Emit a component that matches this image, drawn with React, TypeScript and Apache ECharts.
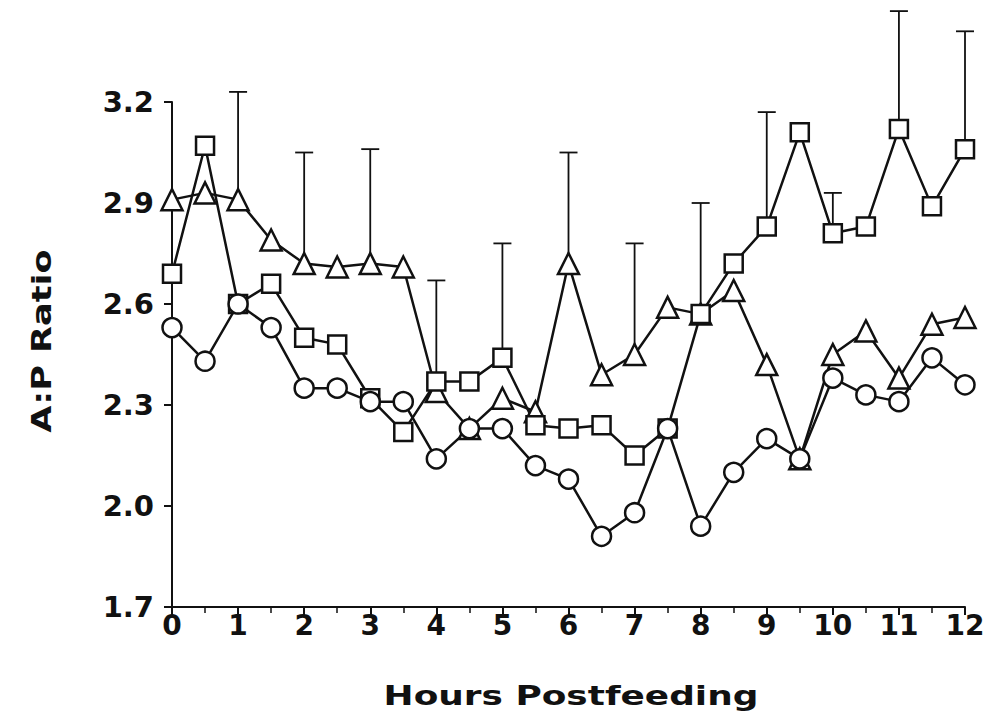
import React, { useEffect, useRef } from "react";
import * as echarts from "echarts";

// Sampling times (hours after feeding)
const hours = [0, 0.5, 1, 1.5, 2, 2.5, 3, 3.5, 4, 4.5, 5, 5.5, 6, 6.5, 7, 7.5, 8, 8.5, 9, 9.5, 10, 10.5, 11, 11.5, 12];

// Mean A:P ratio per group
const circleRatio = [2.53, 2.43, 2.6, 2.53, 2.35, 2.35, 2.31, 2.31, 2.14, 2.23, 2.23, 2.12, 2.08, 1.91, 1.98, 2.23, 1.94, 2.1, 2.2, 2.14, 2.38, 2.33, 2.31, 2.44, 2.36];
const squareRatio = [2.69, 3.07, 2.6, 2.66, 2.5, 2.48, 2.32, 2.22, 2.37, 2.37, 2.44, 2.24, 2.23, 2.24, 2.15, 2.23, 2.57, 2.72, 2.83, 3.11, 2.81, 2.83, 3.12, 2.89, 3.06];
const triangleRatio = [2.91, 2.93, 2.91, 2.79, 2.72, 2.71, 2.72, 2.71, 2.34, 2.23, 2.32, 2.28, 2.72, 2.39, 2.45, 2.59, 2.57, 2.64, 2.42, 2.14, 2.45, 2.52, 2.38, 2.54, 2.56];

// Upper error bars (one per whole hour), attached to the named group
const errHours = [1, 2, 3, 4, 5, 6, 7, 8, 9, 10, 11, 12];
const errGroup = ["triangle", "triangle", "triangle", "square", "square", "triangle", "triangle", "square", "square", "square", "square", "square"];
const errUpper = [3.23, 3.05, 3.06, 2.67, 2.78, 3.05, 2.78, 2.9, 3.17, 2.93, 3.47, 3.41];

// Axis ticks and titles
const yTicks = [1.7, 2.0, 2.3, 2.6, 2.9, 3.2];
const xTicks = [0, 1, 2, 3, 4, 5, 6, 7, 8, 9, 10, 11, 12];
const xTitle = "Hours Postfeeding";
const yTitle = "A:P Ratio";

const INK = "#111";
const FONT = "DejaVu Sans";

const groupValues: Record<string, number[]> = {
  circle: circleRatio,
  square: squareRatio,
  triangle: triangleRatio,
};

function pairs(values: number[]) {
  return hours.map((h, i) => [h, values[i]]);
}

export default function App() {
  const ref = useRef<HTMLDivElement>(null);

  useEffect(() => {
    if (!ref.current) return;
    const chart = echarts.init(ref.current, undefined, { renderer: "svg" });

    const errData = errHours.map((h, i) => {
      const idx = hours.indexOf(h);
      return [h, groupValues[errGroup[i]][idx], errUpper[i]];
    });

    const lineSeries = (name: string, values: number[], symbol: string, size: number) => ({
      name,
      type: "line",
      data: pairs(values),
      symbol,
      symbolSize: size,
      showSymbol: true,
      z: 3,
      lineStyle: { color: INK, width: 2.5 },
      itemStyle: { color: "#fff", borderColor: INK, borderWidth: 2.5 },
      emphasis: { disabled: true },
    });

    chart.setOption({
      animation: false,
      backgroundColor: "#fff",
      grid: { left: 172, right: 30, top: 102, bottom: 119, containLabel: false },
      xAxis: {
        type: "value",
        min: 0,
        max: 12,
        interval: 1,
        axisLine: { show: true, lineStyle: { color: INK, width: 2 } },
        axisTick: { show: true, length: 8, lineStyle: { color: INK, width: 2 } },
        minorTick: { show: true, splitNumber: 2, length: 6, lineStyle: { color: INK, width: 1.5 } },
        splitLine: { show: false },
        axisLabel: {
          color: INK,
          fontSize: 28,
          fontWeight: "bold",
          fontFamily: FONT,
          margin: 4,
          formatter: (v: number) => (xTicks.includes(v) ? String(v) : ""),
        },
      },
      yAxis: {
        type: "value",
        min: yTicks[0],
        max: yTicks[yTicks.length - 1],
        axisLine: { show: true, lineStyle: { color: INK, width: 2 } },
        axisTick: { show: true, length: 8, customValues: yTicks, lineStyle: { color: INK, width: 2 } },
        splitLine: { show: false },
        axisLabel: {
          color: INK,
          fontSize: 29,
          fontWeight: "bold",
          fontFamily: FONT,
          margin: 18,
          customValues: yTicks,
          formatter: (v: number) => v.toFixed(1),
        },
      },
      graphic: [
        {
          type: "text",
          x: 42,
          y: 341,
          rotation: Math.PI / 2,
          scaleX: 1.3,
          style: {
            text: yTitle,
            fill: INK,
            fontSize: 27,
            fontWeight: "bold",
            fontFamily: FONT,
            align: "center",
            verticalAlign: "middle",
          },
        },
        {
          type: "text",
          x: 571,
          y: 696,
          scaleX: 1.33,
          style: {
            text: xTitle,
            fill: INK,
            fontSize: 27,
            fontWeight: "bold",
            fontFamily: FONT,
            align: "center",
            verticalAlign: "middle",
          },
        },
      ],
      series: [
        {
          type: "custom",
          z: 1,
          clip: false,
          data: errData,
          renderItem: (_params: any, api: any) => {
            const x = api.value(0);
            const lo = api.value(1);
            const hi = api.value(2);
            const p0 = api.coord([x, lo]);
            const p1 = api.coord([x, hi]);
            const w = 9;
            const style = { stroke: INK, lineWidth: 1.8 };
            return {
              type: "group",
              children: [
                { type: "line", shape: { x1: p0[0], y1: p0[1], x2: p1[0], y2: p1[1] }, style },
                { type: "line", shape: { x1: p1[0] - w, y1: p1[1], x2: p1[0] + w, y2: p1[1] }, style },
              ],
            };
          },
        },
        lineSeries("triangle", triangleRatio, "triangle", 21),
        lineSeries("square", squareRatio, "rect", 18),
        lineSeries("circle", circleRatio, "circle", 19),
      ],
    });

    return () => chart.dispose();
  }, []);

  return (
    <div
      ref={ref}
      style={{ position: "fixed", left: 0, top: 0, width: 995, height: 726, background: "#fff" }}
    />
  );
}
